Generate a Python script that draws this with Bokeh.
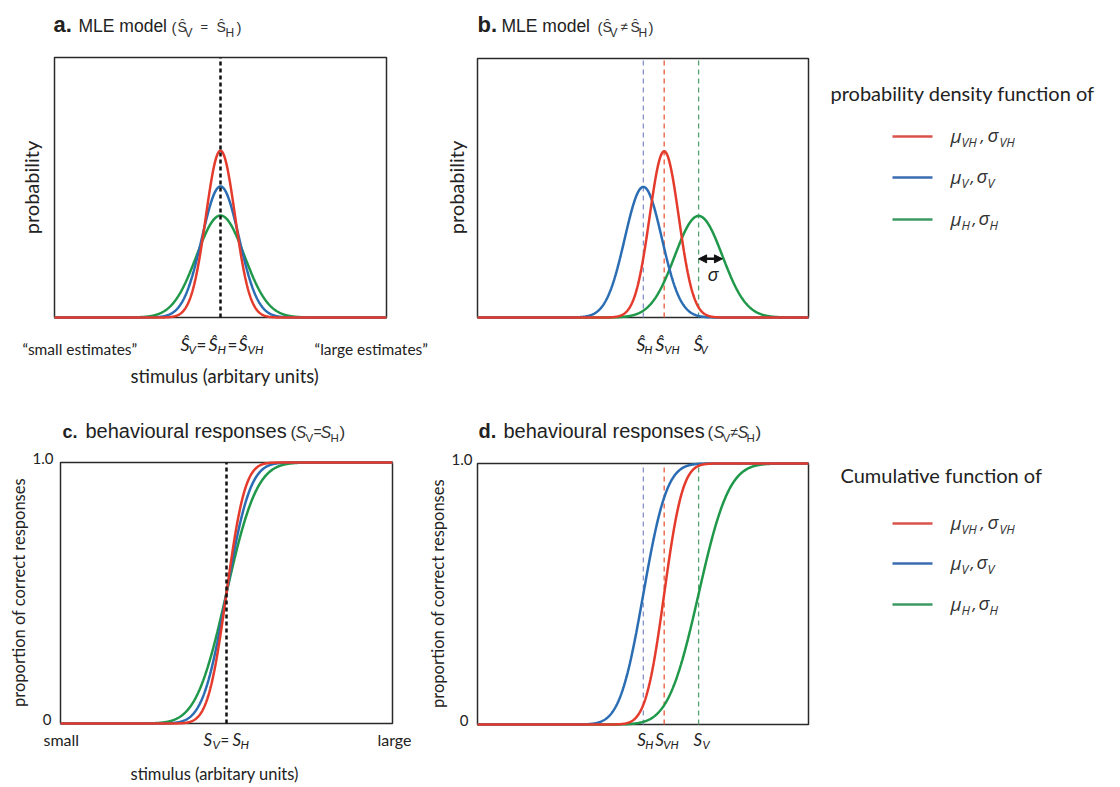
import math
import numpy as np
from bokeh.plotting import figure
from bokeh.layouts import row, column
from bokeh.models import Range1d, Label, Arrow, NormalHead
from bokeh.core.properties import value
from bokeh.embed import file_html
from bokeh.resources import INLINE

# ---------------- data ----------------
series_names = ["VH", "V", "H"]                      # red, blue, green curves
series_colors = ["#e43b2c", "#2b6db3", "#1f9849"]
legend_colors = ["#d9534a", "#3a6db0", "#3b9a63"]
guide_colors = ["#e85a3a", "#8793c6", "#55a173"]
sigma = [4.4, 5.6, 7.2]                              # spread of each curve (stimulus units)
mu_equal = [50.0, 50.0, 50.0]                        # panels a and c
mu_unequal = [56.4, 50.1, 66.8]                      # panels b and d
marks_unequal = ["VH", "H", "V"]                     # subscripts written under the b / d guides
stim_min, stim_max = 0.0, 100.0
pdf_top = 0.1413
sigma_arrow_y = 0.032
cdf_ticks = [0.0, 1.0]
cdf_tick_labels = ["0", "1.0"]

INK = "#222222"
HELV = "Liberation Sans"
MYR = "Lato"
GRK = "Open Sans"
BASE_FIX = 0.36          # empirical lift (in em) so that the alphabetic baseline lands where wanted

xs = np.linspace(stim_min, stim_max, 801)


def pdf(m, s):
    return np.exp(-(xs - m) ** 2 / (2 * s * s)) / (s * math.sqrt(2 * math.pi))


def cdf(m, s):
    return np.array([0.5 * (1 + math.erf((v - m) / (s * math.sqrt(2)))) for v in xs])


class Panel:
    """A figure whose frame fills the canvas; the plot box sits at box=(l, t, r, b) canvas px."""

    def __init__(self, W, H, page_x, page_y, box, y0, y1):
        l, t, r, b = box
        kx = (r - l) / (stim_max - stim_min)
        ky = (b - t) / (y1 - y0)
        xr = Range1d(stim_min - l / kx, stim_max + (W - r) / kx)
        yr = Range1d(y0 - (H - b) / ky, y1 + t / ky)
        p = figure(width=W, height=H, x_range=xr, y_range=yr, output_backend="svg",
                   toolbar_location=None, title=None, x_axis_type=None, y_axis_type=None,
                   min_border_left=0, min_border_right=0, min_border_top=0, min_border_bottom=0)
        p.outline_line_color = None
        p.xgrid.visible = False
        p.ygrid.visible = False
        p.background_fill_color = "white"
        p.border_fill_color = "white"
        p.quad(left=[stim_min], right=[stim_max], bottom=[y0], top=[y1], fill_color=None,
               line_color="#2a2a2a", line_width=1.5)
        self.p = p
        self.fl = page_x + l      # page x of box left
        self.ft = page_y + t      # page y of box top
        self.y0, self.y1 = y0, y1

    def put(self, px, py, text, size, font=HELV, style="normal", color=INK, ax=None,
            align="left", baseline="alphabetic", angle=0.0, ay=None, dy=0):
        """px, py: page position of the text anchor. With ax, px is an x offset from data x=ax;
        with ay, dy is a y offset (up) from data y=ay."""
        if ax is None:
            x, xo = stim_min, px - self.fl
        else:
            x, xo = ax, px
        if ay is None:
            y, yo = self.y1, self.ft - py
        else:
            y, yo = ay, dy
        if baseline == "alphabetic":
            yo += BASE_FIX * size
        self.p.add_layout(Label(x=x, y=y, x_offset=xo, y_offset=yo, text=text, angle=angle,
                                text_font=font, text_font_size=f"{size}px", text_font_style=style,
                                text_color=color, text_baseline=baseline, text_align=align))

    def vline(self, xv, color, width, dash):
        self.p.segment(x0=[xv], y0=[self.y0], x1=[xv], y1=[self.y1], line_color=color,
                       line_width=width, line_dash=dash)

    def title(self, y, letter, lx, lsize, main, mx, msize, bits):
        self.put(lx, y, letter, lsize, style="bold")
        self.put(mx, y, main, msize)
        for (tx, ddy, t, sz, st) in bits:
            self.put(tx, y + ddy, t, sz, style=st, color="#333333")


# ---------------- panel a ----------------
A = Panel(438, 395, 0, 0, (54, 57, 386, 317), 0.0, pdf_top)
for i in (2, 1, 0):
    A.p.line(xs, pdf(mu_equal[i], sigma[i]), line_color=series_colors[i], line_width=2.5)
A.vline(mu_equal[0], "#111111", 2.5, "4 3")
A.put(30, 187, "probability", 20, font=MYR, align="center", baseline="middle", angle=math.pi / 2)
A.title(32, "a.", 53, 22, "MLE model", 78, 17.5,
        [(171, 0, "(", 15, "normal"), (177, 0, "Ŝ", 14, "normal"), (184, 5, "V", 12, "normal"),
         (200, -1, "=", 13, "normal"), (216, 0, "Ŝ", 14, "normal"), (225, 5, "H", 12, "normal"),
         (236, 0, ")", 15, "normal")])
for (tx, ty, t, sz, st) in [(180, 350, "Ŝ", 18, "italic"), (188, 353, "V", 12, "italic"),
                            (196, 350, "=", 17, "normal"), (208, 350, "Ŝ", 18, "italic"),
                            (217, 353, "H", 12, "italic"), (227, 350, "=", 17, "normal"),
                            (238, 350, "Ŝ", 18, "italic"), (247, 353, "VH", 12, "italic")]:
    A.put(tx, ty, t, sz, font=MYR, style=st)
A.put(22, 354, "\u201csmall estimates\u201d", 15.5, font=MYR)
A.put(314, 354, "\u201clarge estimates\u201d", 15.5, font=MYR)
A.put(130, 382, "stimulus (arbitary units)", 18.5, font=MYR)

# ---------------- panel b ----------------
B = Panel(382, 395, 438, 0, (39, 58, 370, 317), 0.0, pdf_top)
for i in (1, 0, 2):
    B.vline(mu_unequal[i], guide_colors[i], 1.3, "5 4")
for i in (2, 1, 0):
    B.p.line(xs, pdf(mu_unequal[i], sigma[i]), line_color=series_colors[i], line_width=2.5)
B.p.add_layout(Arrow(x_start=mu_unequal[2], y_start=sigma_arrow_y,
                     x_end=mu_unequal[2] + sigma[2], y_end=sigma_arrow_y,
                     line_color="#111111", line_width=2.5,
                     start=NormalHead(size=8, fill_color="#111111", line_color="#111111"),
                     end=NormalHead(size=8, fill_color="#111111", line_color="#111111")))
B.put(9, 0, "σ", 19, font=GRK, style="italic", ax=mu_unequal[2], ay=sigma_arrow_y, dy=-22)
B.put(455, 187, "probability", 20, font=MYR, align="center", baseline="middle", angle=math.pi / 2)
B.title(32, "b.", 477, 22, "MLE model", 501, 17.5,
        [(597, 0, "(", 15, "normal"), (602, 0, "Ŝ", 14, "normal"), (609, 5, "V", 12, "normal"),
         (620, -1, "≠", 13, "normal"), (630, 0, "Ŝ", 14, "normal"), (638, 5, "H", 12, "normal"),
         (648, 0, ")", 15, "normal")])
b_offsets = {"VH": (-9, 0), "H": (-7, 1), "V": (-5, 2)}
for i in range(3):
    sub = marks_unequal[i]
    so, bo = b_offsets[sub]
    B.put(so, 350, "Ŝ", 18, font=MYR, style="italic", ax=mu_unequal[i])
    B.put(bo, 353, sub, 11.5, font=MYR, style="italic", ax=mu_unequal[i])

# ---------------- panel c ----------------
C = Panel(424, 392, 0, 395, (60, 67, 392, 328), 0.0, 1.0)
for i in (2, 1, 0):
    C.p.line(xs, cdf(mu_equal[i], sigma[i]), line_color=series_colors[i], line_width=2.5)
C.vline(mu_equal[0], "#111111", 2.5, "4 3")
C.put(18, 592, "proportion of correct responses", 16.5, font=MYR, align="center",
      baseline="middle", angle=math.pi / 2)
for tv, tl, xo in zip(cdf_ticks, cdf_tick_labels, (-9, -7)):
    C.put(xo, 0, tl, 15, font=MYR, align="right", baseline="middle", ax=stim_min, ay=tv, dy=4)
C.title(438, "c.", 62, 18, "behavioural responses", 85, 20,
        [(290, 0, "(", 17, "normal"), (295, 0, "S", 16, "italic"), (305, 4, "V", 11.5, "normal"),
         (313, -1, "=", 14, "normal"), (320, 0, "S", 16, "italic"), (330, 4, "H", 11.5, "normal"),
         (339, 0, ")", 17, "normal")])
for (tx, ty, t, sz, st) in [(203, 745, "S", 17, "italic"), (212, 748, "V", 12, "italic"),
                            (220, 745, "=", 15, "normal"), (232, 745, "S", 17, "italic"),
                            (240, 748, "H", 12, "italic")]:
    C.put(tx, ty, t, sz, font=MYR, style=st)
C.put(43, 745, "small", 16, font=MYR)
C.put(377, 745, "large", 16, font=MYR)
C.put(130, 779, "stimulus (arbitary units)", 16.5, font=MYR)

# ---------------- panel d ----------------
D = Panel(396, 392, 424, 395, (53, 68, 384, 329), 0.0, 1.0)
for i in (1, 0, 2):
    D.vline(mu_unequal[i], guide_colors[i], 1.3, "5 4")
for i in (2, 1, 0):
    D.p.line(xs, cdf(mu_unequal[i], sigma[i]), line_color=series_colors[i], line_width=2.5)
D.put(437, 593, "proportion of correct responses", 16.5, font=MYR, align="center",
      baseline="middle", angle=math.pi / 2)
for tv, tl, xo in zip(cdf_ticks, cdf_tick_labels, (-9, -5)):
    D.put(xo, 0, tl, 15, font=MYR, align="right", baseline="middle", ax=stim_min, ay=tv, dy=4)
D.title(438, "d.", 478, 20, "behavioural responses", 503, 20,
        [(707, 0, "(", 17, "normal"), (713, 0, "S", 16, "italic"), (722, 4, "V", 11.5, "normal"),
         (730, -1, "≠", 14, "normal"), (737, 0, "S", 16, "italic"), (746, 4, "H", 11.5, "normal"),
         (755, 0, ")", 17, "normal")])
d_offsets = {"VH": (-9, -1), "H": (-6, 2), "V": (-5, 4)}
for i in range(3):
    sub = marks_unequal[i]
    so, bo = d_offsets[sub]
    D.put(so, 745, "S", 17, font=MYR, style="italic", ax=mu_unequal[i])
    D.put(bo, 748, sub, 11.5, font=MYR, style="italic", ax=mu_unequal[i])


# ---------------- legends ----------------
def legend_fig(h, y0, heading, head_x, head_y, rows_y):
    p = figure(width=300, height=h, x_range=Range1d(820, 1120), y_range=Range1d(y0 + h, y0),
               output_backend="svg", toolbar_location=None, title=None,
               x_axis_type=None, y_axis_type=None,
               min_border_left=0, min_border_right=0, min_border_top=0, min_border_bottom=0)
    p.outline_line_color = None
    p.xgrid.visible = False
    p.ygrid.visible = False
    p.text(x=[head_x], y=[head_y - BASE_FIX * 20], text=[heading], text_font=value(MYR),
           text_font_size=value("20px"), text_color=INK, text_baseline="alphabetic")
    sub_x = {"VH": (961, 980, 987, 999), "V": (961, 970, 976, 987), "H": (961, 972, 978, 989)}
    for i, ly in enumerate(rows_y):
        name = series_names[i]
        p.segment(x0=[892], y0=[ly], x1=[932], y1=[ly], line_color=legend_colors[i], line_width=2.5)
        s1, cx, sg, s2 = sub_x[name]
        for (tx, ty, t, sz, f) in [(950, ly + 6, "μ", 19, GRK), (s1, ly + 10, name, 12.5, GRK),
                                   (cx, ly + 6, ",", 17, GRK), (sg, ly + 5, "σ", 19, GRK),
                                   (s2, ly + 10, name, 12.5, GRK)]:
            p.text(x=[tx], y=[ty - BASE_FIX * sz], text=[t], text_font=value(f),
                   text_font_size=value(f"{sz}px"), text_font_style="italic",
                   text_color="#333333", text_baseline="alphabetic")
    return p


leg1 = legend_fig(395, 0, "probability density function of", 830, 100, [136, 177, 219])
leg2 = legend_fig(392, 395, "Cumulative function of", 840, 482, [523, 563, 604])

layout = column(row(A.p, B.p, leg1), row(C.p, D.p, leg2))
open("out.html", "w").write(file_html(layout, INLINE))
